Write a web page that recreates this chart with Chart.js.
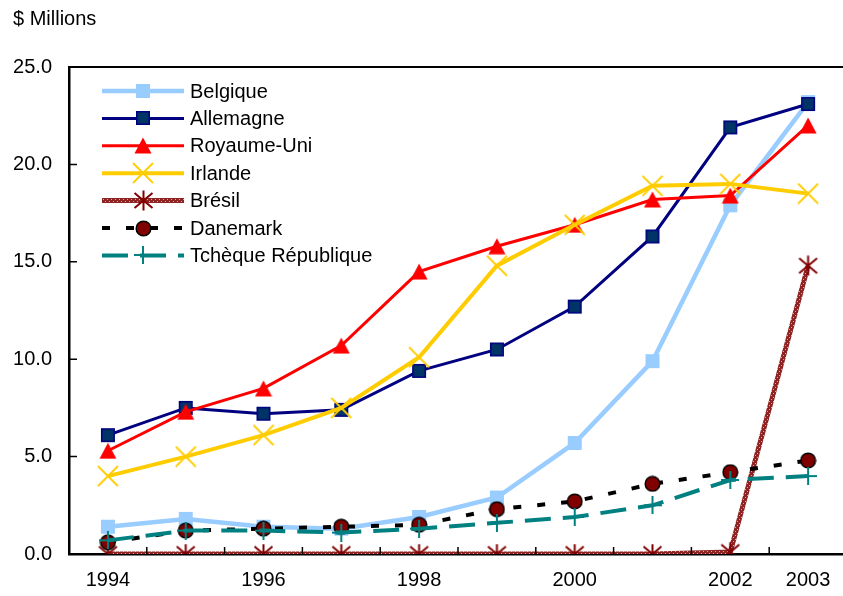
<!DOCTYPE html>
<html>
<head>
<meta charset="utf-8">
<script src="https://cdn.jsdelivr.net/npm/chart.js@4/dist/chart.umd.min.js"></script>
<style>
  html, body { margin: 0; padding: 0; background: #ffffff; overflow: hidden; }
  canvas { display: block; }
</style>
</head>
<body>
<canvas id="c" width="860" height="596"></canvas>
<script>
// Annual values, $ millions
const years = ['1994', '1995', '1996', '1997', '1998', '1999', '2000', '2001', '2002', '2003'];
const yearTickLabels = ['1994', '', '1996', '', '1998', '', '2000', '', '2002', '2003'];
const seriesNames = ['Belgique', 'Allemagne', 'Royaume-Uni', 'Irlande', 'Brésil', 'Danemark', 'Tchèque République'];

const belgique   = [1.4, 1.8, 1.4, 1.3, 1.9, 2.9, 5.7, 9.9, 17.9, 23.2];
const allemagne  = [6.1, 7.5, 7.2, 7.4, 9.4, 10.5, 12.7, 16.3, 21.9, 23.1];
const royaumeUni = [5.3, 7.3, 8.5, 10.7, 14.5, 15.8, 16.9, 18.2, 18.4, 22.0];
const irlande    = [4.0, 5.0, 6.1, 7.5, 10.1, 14.8, 16.9, 18.9, 19.0, 18.5];
const bresil     = [0, 0, 0, 0, 0, 0, 0, 0, 0.1, 14.8];
const danemark   = [0.6, 1.2, 1.3, 1.4, 1.5, 2.3, 2.7, 3.6, 4.2, 4.8];
const tcheque    = [0.7, 1.2, 1.2, 1.1, 1.3, 1.6, 1.9, 2.5, 3.8, 4.0];

const FONT = "'Liberation Sans', Arial, sans-serif";

// Marker sprites, used as point styles and in the legend
function sprite(w, h, paint) {
  const cv = document.createElement('canvas');
  cv.width = w; cv.height = h;
  paint(cv.getContext('2d'), w, h);
  return cv;
}
const mkSquare = (fill, stroke) => sprite(16, 16, (g) => {
  g.fillStyle = fill; g.fillRect(1, 1, 14, 14);
  if (stroke) { g.strokeStyle = stroke; g.lineWidth = 1.5; g.strokeRect(1.75, 1.75, 12.5, 12.5); }
});
const mkTriangle = (fill) => sprite(18, 17, (g) => {
  g.fillStyle = fill; g.beginPath();
  g.moveTo(9, 0.5); g.lineTo(17.5, 16.5); g.lineTo(0.5, 16.5); g.closePath(); g.fill();
});
const mkX = (col) => sprite(22, 22, (g) => {
  g.strokeStyle = col; g.lineWidth = 1.8; g.beginPath();
  g.moveTo(1, 1); g.lineTo(21, 21); g.moveTo(21, 1); g.lineTo(1, 21); g.stroke();
});
const mkAsterisk = (col) => sprite(21, 21, (g) => {
  g.strokeStyle = col; g.lineWidth = 2; g.beginPath();
  g.moveTo(1.5, 3); g.lineTo(19.5, 18); g.moveTo(19.5, 3); g.lineTo(1.5, 18);
  g.moveTo(10.5, 0.5); g.lineTo(10.5, 20.5); g.stroke();
});
const mkCircle = (fill, stroke) => sprite(17, 17, (g) => {
  g.fillStyle = fill; g.strokeStyle = stroke; g.lineWidth = 1.5;
  g.beginPath(); g.arc(8.5, 8.5, 7.3, 0, Math.PI * 2); g.fill(); g.stroke();
});
const mkPlus = (col) => sprite(18, 18, (g) => {
  g.strokeStyle = col; g.lineWidth = 2; g.beginPath();
  g.moveTo(0, 9); g.lineTo(18, 9); g.moveTo(9, 0); g.lineTo(9, 18); g.stroke();
});

// Speckled fill for the Brésil line
const bresilPattern = (() => {
  const cv = sprite(4, 4, (g) => {
    g.fillStyle = '#8E2323'; g.fillRect(0, 0, 4, 4);
    g.fillStyle = '#D9A5A5'; g.fillRect(1, 1, 1, 1); g.fillRect(3, 3, 1, 1);
  });
  return document.getElementById('c').getContext('2d').createPattern(cv, 'repeat');
})();

const styles = [
  { color: '#99CCFF', width: 4.5, dash: [], marker: mkSquare('#99CCFF') },
  { color: '#000080', width: 3, dash: [], marker: mkSquare('#003366', '#000080') },
  { color: '#FF0000', width: 3, dash: [], marker: mkTriangle('#FF0000') },
  { color: '#FFCC00', width: 4, dash: [], marker: mkX('#FFCC00') },
  { color: bresilPattern, width: 5, dash: [], marker: mkAsterisk('#800000') },
  { color: '#000000', width: 4, dash: [8, 16], marker: mkCircle('#800000', '#000000') },
  { color: '#008080', width: 4, dash: [26, 12], marker: mkPlus('#008080') }
];
const values = [belgique, allemagne, royaumeUni, irlande, bresil, danemark, tcheque];

const datasets = seriesNames.map((name, i) => ({
  label: name,
  data: values[i],
  borderColor: styles[i].color,
  backgroundColor: styles[i].color,
  borderWidth: styles[i].width,
  borderDash: styles[i].dash,
  borderCapStyle: 'butt',
  tension: 0,
  pointStyle: styles[i].marker,
  pointRadius: 8,
  pointHoverRadius: 8,
  order: seriesNames.length - i
}));

// Open right side, frame line on top, inward tick marks, unit caption and the in-plot legend
const decorations = {
  id: 'decorations',
  afterDraw(chart) {
    const { ctx, chartArea, scales } = chart;
    const xs = scales.x, ys = scales.y;
    ctx.save();
    ctx.fillStyle = '#ffffff';
    ctx.fillRect(chartArea.right - 2, chartArea.top + 2, chart.width, chartArea.bottom - chartArea.top - 4);

    ctx.strokeStyle = '#000'; ctx.lineWidth = 2;
    ctx.beginPath();
    ctx.moveTo(chartArea.left, chartArea.top); ctx.lineTo(chart.width, chartArea.top);
    ctx.stroke();

    ctx.lineWidth = 1.5;
    ctx.beginPath();
    ys.ticks.forEach(t => {
      const y = ys.getPixelForValue(t.value);
      ctx.moveTo(chartArea.left, y); ctx.lineTo(chartArea.left + 8, y);
    });
    const step = xs.getPixelForValue(1) - xs.getPixelForValue(0);
    for (let i = 1; i < years.length; i++) {
      const x = xs.getPixelForValue(i) - step / 2;
      ctx.moveTo(x, chartArea.bottom); ctx.lineTo(x, chartArea.bottom - 7);
    }
    ctx.stroke();

    ctx.fillStyle = '#000';
    ctx.font = '20px ' + FONT;
    ctx.textBaseline = 'middle';
    ctx.textAlign = 'left';
    ctx.fillText('$ Millions', 13, 19);

    const lx0 = 102, lx1 = 184, mx = 143, tx = 190, ly0 = 91, lstep = 27.4;
    seriesNames.forEach((name, i) => {
      const y = ly0 + i * lstep;
      const s = styles[i];
      ctx.save();
      ctx.strokeStyle = s.color; ctx.lineWidth = s.width;
      ctx.setLineDash(s.dash); ctx.lineCap = 'butt';
      ctx.beginPath(); ctx.moveTo(lx0, y); ctx.lineTo(lx1, y); ctx.stroke();
      ctx.restore();
      ctx.drawImage(s.marker, Math.round(mx - s.marker.width / 2), Math.round(y - s.marker.height / 2));
      ctx.fillStyle = '#000';
      ctx.fillText(name, tx, y + 1);
    });
    ctx.restore();
  }
};

new Chart(document.getElementById('c'), {
  type: 'line',
  data: { labels: years, datasets },
  options: {
    responsive: false,
    devicePixelRatio: 1,
    animation: false,
    layout: { padding: { top: 67, right: 0, left: 0, bottom: 0 } },
    plugins: { legend: { display: false }, tooltip: { enabled: false } },
    scales: {
      x: {
        type: 'category',
        offset: true,
        grid: { display: false, drawTicks: false },
        border: { display: true, color: '#000', width: 2.5 },
        ticks: {
          autoSkip: false, maxRotation: 0, padding: 14,
          color: '#000', font: { family: FONT, size: 20 },
          callback: (v, i) => yearTickLabels[i]
        },
        afterFit: s => { s.height = 42; s.paddingLeft = 0; s.paddingRight = 0; }
      },
      y: {
        min: 0, max: 25,
        grid: { display: false, drawTicks: false },
        border: { display: true, color: '#000', width: 2.5 },
        ticks: {
          stepSize: 5, padding: 17,
          color: '#000', font: { family: FONT, size: 20 },
          callback: v => Number(v).toFixed(1)
        },
        afterFit: s => { s.width = 69; s.paddingTop = 0; s.paddingBottom = 0; }
      }
    }
  },
  plugins: [decorations]
});
</script>
</body>
</html>
